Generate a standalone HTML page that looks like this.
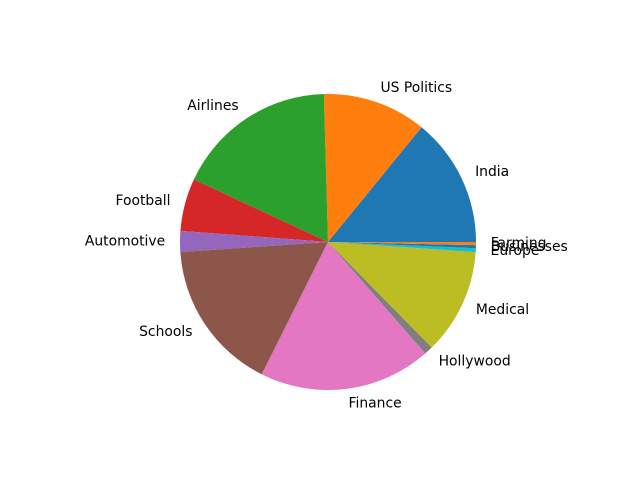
<!DOCTYPE html>
<html><head><meta charset="utf-8"><style>
body{margin:0;background:#fff;}
svg{display:block;font-family:"DejaVu Sans","Liberation Sans",sans-serif;}
</style></head><body>
<svg id="chart" width="640" height="480" viewBox="0 0 640 480">
<rect width="640" height="480" fill="#fff"/>
<g id="slices"></g><g id="labels"></g>
</svg>
<script>
const categories = ["India","US Politics","Airlines","Football","Automotive","Schools","Finance","Hollywood","Medical","Europe","Businesses","Farming"];
const values = [50.8,40.8,63.4,20.7,8.2,59.5,67.7,3.4,41.6,1.5,1.2,1.2];
const colors = ["#1f77b4","#ff7f0e","#2ca02c","#d62728","#9467bd","#8c564b","#e377c2","#7f7f7f","#bcbd22","#17becf"];
const cx=328, cy=242, R=148;
const total = values.reduce((a,b)=>a+b,0);
const ns="http://www.w3.org/2000/svg";
const gs=document.getElementById('slices'), gl=document.getElementById('labels');
let a0=0;
values.forEach((v,i)=>{
  const a1=a0+v/total*2*Math.PI;
  const x0=cx+R*Math.cos(a0), y0=cy-R*Math.sin(a0);
  const x1=cx+R*Math.cos(a1), y1=cy-R*Math.sin(a1);
  const large=(a1-a0)>Math.PI?1:0;
  const p=document.createElementNS(ns,'path');
  p.setAttribute('d',`M${cx},${cy} L${x0},${y0} A${R},${R} 0 ${large} 0 ${x1},${y1} Z`);
  p.setAttribute('fill',colors[i%colors.length]);
  
  
  gs.appendChild(p);
  const am=(a0+a1)/2;
  const lx=cx+1.1*R*Math.cos(am), ly=cy-1.1*R*Math.sin(am);
  const t=document.createElementNS(ns,'text');
  t.setAttribute('x',lx); t.setAttribute('y',ly);
  t.setAttribute('font-size','13.9');
  t.setAttribute('dominant-baseline','central');
  t.setAttribute('text-anchor',Math.cos(am)>=0?'start':'end');
  t.textContent=categories[i];
  
  
  gl.appendChild(t);
  a0=a1;
});
</script>
</body></html>
